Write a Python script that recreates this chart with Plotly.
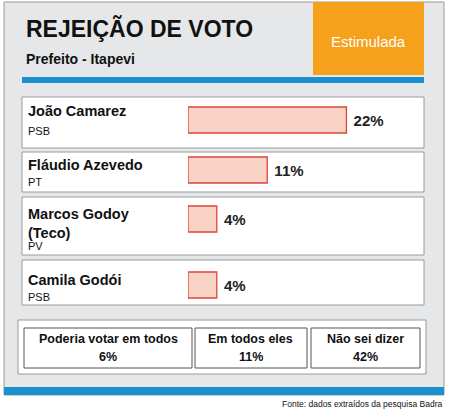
import plotly.graph_objects as go

W, H = 449, 413
candidates = ["João Camarez", "Fláudio Azevedo", "Marcos Godoy<br>(Teco)", "Camila Godói"]
parties = ["PSB", "PT", "PV", "PSB"]
values = [22, 11, 4, 4]
table_labels = ["Poderia votar em todos", "Em todos eles", "Não sei dizer"]
table_values = [6, 11, 42]

# layout (pixel positions)
row_boxes = [(97, 148), (152, 192), (197, 255), (260, 305)]
bar_centers = [120, 170, 219, 285]

def px(x): return x / W
def py(y): return 1 - y / H

fig = go.Figure(go.Bar(
    x=values, y=bar_centers, orientation="h", width=26,
    marker=dict(color="#f8d3c6", line=dict(color="#d9453a", width=1.3)),
    text=[f" <b>{v}%</b>" for v in values], textposition="outside", cliponaxis=False,
    textfont=dict(family="Liberation Sans", size=15, color="#222"),
    hoverinfo="skip"))

shapes = []
ann = []
def rect(x0, x1, t, b, fill, line=None):
    shapes.append(dict(type="rect", xref="paper", yref="paper", x0=px(x0), x1=px(x1), y0=py(b), y1=py(t),
                       fillcolor=fill, line=line or dict(width=0), layer="below"))
def text(x, y, t, size, xanchor="center", color="#111", align="center"):
    ann.append(dict(xref="paper", yref="paper", x=px(x), y=py(y), text=t, showarrow=False,
                    xanchor=xanchor, yanchor="middle", align=align, font=dict(size=size, color=color)))

rect(4, 444, 2, 395, "#e6e7e9", dict(color="#9a9a9a", width=1))
rect(313, 424, 2, 75, "#f5a11c")
rect(22, 424, 77, 83, "#1b8fd0")
rect(4, 444, 387, 395, "#1b8fd0")
for (t, b) in row_boxes:
    rect(22, 424, t, b, "white", dict(color="#9a9a9a", width=1))
rect(18, 426, 320, 374, "white", dict(color="#9a9a9a", width=1))
cells = [(24, 192), (195, 307), (311, 420)]
for (l, r), lab, v in zip(cells, table_labels, table_values):
    rect(l, r, 328, 368, "white", dict(color="#555", width=1))
    text((l + r) / 2, 339, f"<b>{lab}</b>", 12.5)
    text((l + r) / 2, 357, f"<b>{v}%</b>", 12.5)

text(24, 29, "<b>REJEIÇÃO DE VOTO</b>", 23, "left")
text(24, 59, "<b>Prefeito - Itapevi</b>", 14, "left")
text(368, 42, "Estimulada", 15, color="white")
name_y = [111, 165, 221, 280]
party_y = [131, 182, 246, 297]
for n, p, ny, pyy in zip(candidates, parties, name_y, party_y):
    text(26, ny, f"<b>{n}</b>", 14.5, "left", align="left")
    text(26, pyy, p, 11, "left")
ann[-4]["y"] = py(223)
ann[-4]["font"]["size"] = 14.5
text(444, 404, "Fonte: dados extraídos da pesquisa Badra", 8.5, "right")

fig.update_layout(
    width=W, height=H, margin=dict(l=0, r=0, t=0, b=0),
    paper_bgcolor="white", plot_bgcolor="rgba(0,0,0,0)",
    font=dict(family="Liberation Sans"),
    xaxis=dict(domain=[px(188), px(422)], range=[0, 32.5], visible=False, fixedrange=True),
    yaxis=dict(domain=[0, 1], range=[H, 0], visible=False, fixedrange=True),
    shapes=shapes, annotations=ann, showlegend=False)
fig.write_html("out.html", config={"displayModeBar": False},
               post_script="document.body.style.margin='0px';")
